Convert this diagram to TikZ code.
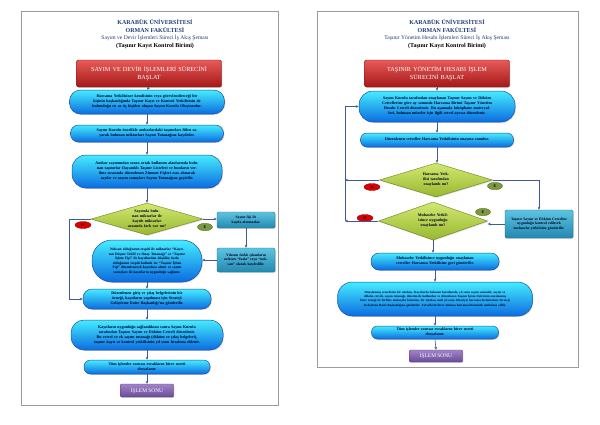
\documentclass[tikz,border=0pt]{standalone}
\usepackage{fontspec}
\setmainfont{Liberation Serif}
\usetikzlibrary{arrows.meta,shapes.geometric,shadows}
\definecolor{cyT}{HTML}{45ECFF}
\definecolor{cyB}{HTML}{0B6CE0}
\definecolor{cyD}{HTML}{1A4FA8}
\definecolor{rdT}{HTML}{E85A5A}
\definecolor{rdB}{HTML}{A51818}
\definecolor{puT}{HTML}{A083C8}
\definecolor{puB}{HTML}{6A4A98}
\definecolor{grT}{HTML}{D2E870}
\definecolor{grB}{HTML}{98B830}
\definecolor{tlT}{HTML}{5CC4E0}
\definecolor{tlB}{HTML}{2488B0}
\definecolor{navy}{HTML}{1F3B73}
\definecolor{arr}{HTML}{3F5A96}
\definecolor{frame}{HTML}{9C9C9C}
\tikzset{
  pagebox/.style={draw=frame, line width=0.8pt, fill=white, drop shadow={shadow xshift=1pt, shadow yshift=-1pt, opacity=0.25}},
  ttl/.style={text=navy, font=\fontsize{6}{7}\selectfont\bfseries, inner sep=0pt},
  ttls/.style={text=navy, font=\fontsize{5.6}{7}\selectfont, inner sep=0pt},
  ttlb/.style={text=black, font=\fontsize{6}{7}\selectfont\bfseries, inner sep=0pt},
  boxtext/.style={font=\fontsize{4}{5}\selectfont\bfseries, text=black!85!blue, align=center, inner sep=0pt},
  cybox/.style={boxtext, draw=cyD, line width=0.5pt, top color=cyT, bottom color=cyB, drop shadow={shadow xshift=0.8pt, shadow yshift=-0.9pt, opacity=0.3}},
  startbox/.style={draw=rdB!80!black, line width=0.4pt, top color=rdT, bottom color=rdB, rounded corners=2pt, text=white, font=\fontsize{6.2}{8.5}\selectfont, align=center, inner sep=0pt, drop shadow={shadow xshift=0.8pt, shadow yshift=-0.9pt, opacity=0.3}},
  endbox/.style={draw=puB!80!black, line width=0.4pt, top color=puT, bottom color=puB, rounded corners=1pt, text=white, font=\fontsize{5.4}{6}\selectfont, align=center, inner sep=0pt, drop shadow={shadow xshift=0.8pt, shadow yshift=-0.9pt, opacity=0.3}},
  diam/.style={diamond, draw=grB!70!black, line width=0.4pt, top color=grT, bottom color=grB, inner sep=0pt, drop shadow={shadow xshift=0.8pt, shadow yshift=-0.9pt, opacity=0.3}},
  dtext/.style={boxtext, font=\fontsize{4}{5}\selectfont\bfseries},
  sidebox/.style={boxtext, draw=tlB!80!black, line width=0.4pt, top color=tlT, bottom color=tlB, rounded corners=1.5pt, font=\fontsize{3.7}{4.8}\selectfont\bfseries, drop shadow={shadow xshift=0.8pt, shadow yshift=-0.9pt, opacity=0.3}},
  hlab/.style={ellipse, draw=red!60!black, line width=0.3pt, fill=red!85!black, minimum width=16pt, minimum height=7pt, inner sep=0pt, font=\fontsize{4}{4}\selectfont\bfseries, text=black!80!red},
  elab/.style={ellipse, draw=olive!60!black, line width=0.3pt, fill=olive!55!green!70!gray, minimum width=15pt, minimum height=7.5pt, inner sep=0pt, font=\fontsize{4}{4}\selectfont\bfseries, text=black},
  conn/.style={draw=arr, line width=0.6pt, -{Stealth[length=3pt,width=2.6pt]}},
  plain/.style={draw=arr, line width=0.6pt}
}
\begin{document}
\begin{tikzpicture}[x=1pt,y=-1pt]
\useasboundingbox (0,0) rectangle (600,424);
\fill[white] (0,0) rectangle (600,424);
% page frames
\path[pagebox] (21,11) rectangle (278,405);
\path[pagebox] (317,11) rectangle (578,367);

% ================= LEFT PAGE =================
\node[ttl] (lt1) at (155,22) {KARABÜK ÜNİVERSİTESİ};
\node[ttl] (lt2) at (155,30) {ORMAN FAKÜLTESİ};
\node[ttls] (lt3) at (155,38) {Sayım ve Devir İşlemleri Süreci İş Akış Şeması};
\node[ttlb] (lt4) at (155,46.5) {(Taşınır Kayıt Kontrol Birimi)};

\node[startbox, minimum width=145pt, minimum height=27pt, text width=140pt] (ls) at (149,73.5) {SAYIM VE DEVİR İŞLEMLERİ SÜRECİNİ\\BAŞLAT};

\node[cybox, rounded corners=11pt, minimum width=155pt, minimum height=24pt, text width=112pt] (lb1) at (147,102) {Harcama Yetkilisince kendisinin veya görevlendireceği bir kişinin başkanlığında Taşınır Kayıt ve Kontrol Yetkilisinin de bulunduğu en az üç kişiden oluşan Sayım Kurulu Oluşturulur.};

\node[cybox, rounded corners=8pt, minimum width=153pt, minimum height=17pt, text width=134pt] (lb2) at (147,133.5) {Sayım Kurulu öncelikle ambarlardaki taşınırları fiilen sayarak bulunan miktarları Sayım Tutanağına kaydeder.};

\node[cybox, rounded corners=14pt, minimum width=150pt, minimum height=33pt, text width=124pt] (lb3) at (147,171.5) {Ambar sayımından sonra ortak kullanım alanlarında bulunan taşınırlar Dayanıklı Taşınır Listeleri ve bunların verilme sırasında düzenlenen Zimmet Fişleri esas alınarak sayılır ve sayım sonuçları Sayım Tutanağına geçirilir.};

\node[diam, minimum width=112pt, minimum height=32pt] (ld) at (147,219) {};
\node[dtext, text width=42pt] (ldt) at (ld.center) {Sayımda bulunan miktarlar ile kayıtlı miktarlar arasında fark var mı?};
\node[hlab] (lh) at (83,225) {H};
\node[elab] (le) at (205,227) {E};

\node[sidebox, minimum width=58pt, minimum height=16pt, text width=46pt] (lr1) at (246,220) {Sayım fişi ile kayda alınmazlar.};
\node[sidebox, minimum width=58pt, minimum height=24pt, text width=52pt] (lr2) at (246,260) {Yılsonu farklı çıkanların miktarı “fazla” veya “noksan” olarak kaydedilir.};

\node[cybox, rounded corners=20pt, minimum width=110pt, minimum height=42pt, text width=88pt, font=\fontsize{3.6}{4.5}\selectfont\bfseries] (lb4) at (147,261) {Noksan olduğunun tespiti ile miktarlar “Kayıttan Düşme Teklif ve Onay Tutanağı” ve “Taşınır İşlem Fişi” ile kayıtlardan düşülür, fazla olduğunun tespiti halinde ise “Taşınır İşlem Fişi” düzenlenerek kayıtlara alınır ve sayım sonuçları ile kayıtların uygunluğu sağlanır.};

\node[cybox, rounded corners=9pt, minimum width=128pt, minimum height=20pt, text width=112pt] (lb5) at (147,299) {Düzenlenen giriş ve çıkış belgelerinin bir örneği, kayıtların yapılması için Strateji Geliştirme Daire Başkanlığı’na gönderilir.};

\node[cybox, rounded corners=13pt, minimum width=152pt, minimum height=30pt, text width=130pt] (lb6) at (147,335) {Kayıtların uygunluğu sağlandıktan sonra Sayım Kurulu tarafından Taşınır Sayım ve Döküm Cetveli düzenlenir. Bu cetvel ve ek sayım tutanağı (döküm ve çıkış belgeleri), taşınır kayıt ve kontrol yetkilisinin yıl sonu hesabına eklenir.};

\node[cybox, rounded corners=6.5pt, minimum width=126pt, minimum height=14pt, text width=100pt] (lb7) at (147,367) {Tüm işlemler sonrası evrakların birer sureti\\dosyalanır.};

\node[endbox, minimum width=53pt, minimum height=13pt] (lend) at (147,390.5) {İŞLEM SONU};

\coordinate (lc1) at (69,219);
\coordinate (lc2) at (69,299);

\draw[conn] (ls.south) -- (lb1.north);
\draw[conn] (lb1.south) -- (lb2.north);
\draw[conn] (lb2.south) -- (lb3.north);
\draw[conn] (lb3.south) -- (ld.north);
\draw[conn] (ld.east) -- (ld.east -| lr1.west);
\draw[conn] (lr1.south) -- (lr2.north);
\draw[conn] (lr2.west) -- (lr2.west -| lb4.east);
\draw[conn] (lb4.south) -- (lb5.north);
\draw[conn] (ld.west) -- (lc1) -- (lc2) -- (lb5.west);
\draw[conn] (lb5.south) -- (lb6.north);
\draw[conn] (lb6.south) -- (lb7.north);
\draw[conn] (lb7.south) -- (lend.north);

% ================= RIGHT PAGE =================
\node[ttl] (rt1) at (447,22) {KARABÜK ÜNİVERSİTESİ};
\node[ttl] (rt2) at (447,30) {ORMAN FAKÜLTESİ};
\node[ttls] (rt3) at (447,38) {Taşınır Yönetim Hesabı İşlemleri Süreci İş Akış Şeması};
\node[ttlb] (rt4) at (447,46.5) {(Taşınır Kayıt Kontrol Birimi)};

\node[startbox, minimum width=145pt, minimum height=27pt, text width=140pt] (rs) at (437,73.5) {TAŞINIR YÖNETİM HESABI İŞLEM\\SÜRECİNİ BAŞLAT};

\node[cybox, rounded corners=14pt, minimum width=156pt, minimum height=31pt, text width=124pt] (rb1) at (437,106.5) {Sayım Kurulu tarafından onaylanan Taşınır Sayım ve Döküm Cetvellerine göre ay sonunda Harcama Birimi Taşınır Yönetim Hesabı Cetveli düzenlenir. Bu aşamada kütüphane materyalleri, bulunan müzeler için ilgili cetvel ayrıca düzenlenir.};

\node[cybox, rounded corners=6.5pt, minimum width=153pt, minimum height=14pt, text width=140pt] (rb2) at (437,140) {Düzenlenen cetveller Harcama Yetkilisinin onayına sunulur.};

\node[diam, minimum width=113pt, minimum height=34pt] (rd1) at (436,180) {};
\node[dtext, text width=44pt] (rd1t) at (rd1.center) {Harcama Yetkilisi tarafından onaylandı mı?};
\node[hlab] (rh1) at (372,187) {H};
\node[elab] (re1) at (495,186) {E};

\node[sidebox, minimum width=68pt, minimum height=28pt, text width=56pt] (rr) at (539,224) {Taşınır Sayım ve Döküm Cetveline uygunluğu kontrol edilerek muhasebe yetkilisine gönderilir.};

\node[diam, minimum width=109pt, minimum height=38pt] (rd2) at (433,221) {};
\node[dtext, text width=40pt] (rd2t) at (rd2.center) {Muhasebe Yetkilisince uygunluğu onaylandı mı?};
\node[hlab] (rh2) at (365,218) {H};
\node[elab] (re2) at (483,212) {E};

\node[cybox, rounded corners=8pt, minimum width=128pt, minimum height=17pt, text width=108pt] (rb3) at (435,261.5) {Muhasebe Yetkilisince uygunluğu onaylanan cetveller Harcama Yetkilisine geri gönderilir.};

\node[cybox, rounded corners=15pt, minimum width=195pt, minimum height=34pt, text width=168pt, font=\fontsize{3.15}{4.3}\selectfont\bfseries] (rb4) at (435,299) {Onaylanmış cetvellerin bir nüshası, Kayıtlarda bulunan kurulumda, yıl sonu sayım sonunda; sayım ve döküm cetveli, sayım tutanağı, tüketim ile kullanılan ve düzenlenen Taşınır İşlem Fişlerinin onaylanmış birer örneği ile birlikte muhasebe birimine, bir nüshası mali yıl sonu itibariyle harcama birimlerince Strateji Geliştirme Daire Başkanlığına gönderilir. Cetvellerin birer nüshası harcama biriminde muhafaza edilir.};

\node[cybox, rounded corners=6pt, minimum width=127pt, minimum height=13pt, text width=100pt] (rb5) at (435,332.5) {Tüm işlemler sonrası evrakların birer sureti\\dosyalanır.};

\node[endbox, minimum width=53pt, minimum height=12pt] (rend) at (436,356) {İŞLEM SONU};

\coordinate (rc1) at (345,180);
\coordinate (rc2) at (345,221);
\coordinate (rc3) at (345,106.5);

\draw[conn] (rs.south) -- (rb1.north);
\draw[conn] (rb1.south) -- (rb2.north);
\draw[conn] (rb2.south) -- (rb2.south |- rd1.north);
\draw[conn] (rd1.east) -| (rr.north);
\draw[conn] (rr.west) -- (rr.west -| rd2.east);
\draw[conn] (rd1.west) -- (rc1);
\draw[conn] (rd2.west) -- (rc2);
\draw[conn] (rc2) -- (rc3) -- (rb1.west);
\draw[conn] (rd2.south) -- (rd2.south |- rb3.north);
\draw[conn] (rb3.south) -- (rb4.north);
\draw[conn] (rb4.south) -- (rb5.north);
\draw[conn] (rb5.south) -- (rend.north);
\end{tikzpicture}
\end{document}
